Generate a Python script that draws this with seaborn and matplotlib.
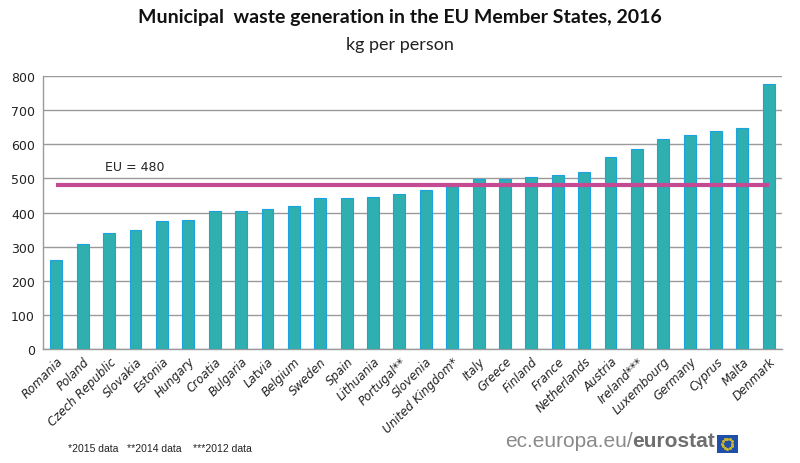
import matplotlib.pyplot as plt
import numpy as np
import pandas as pd
import seaborn as sns
from matplotlib.patches import Rectangle

countries = ['Romania', 'Poland', 'Czech Republic', 'Slovakia', 'Estonia', 'Hungary', 'Croatia',
             'Bulgaria', 'Latvia', 'Belgium', 'Sweden', 'Spain', 'Lithuania', 'Portugal**',
             'Slovenia', 'United Kingdom*', 'Italy', 'Greece', 'Finland', 'France', 'Netherlands',
             'Austria', 'Ireland***', 'Luxembourg', 'Germany', 'Cyprus', 'Malta', 'Denmark']
waste_kg = [261, 307, 339, 348, 376, 379, 403, 404, 410, 420, 443, 443, 444, 453,
            467, 485, 497, 498, 504, 510, 520, 564, 586, 614, 626, 640, 647, 777]
eu_avg = 480
y_ticks = [0, 100, 200, 300, 400, 500, 600, 700, 800]

df = pd.DataFrame({'country': countries, 'kg': waste_kg})

sns.set_style('white')
plt.rcParams['font.family'] = ['DejaVu Sans']

fig = plt.figure(figsize=(8, 4.64), dpi=100)
ax = fig.add_axes([0.054, 0.2457, 0.9235, 0.5883])

sns.barplot(data=df, x='country', y='kg', color='#2FAFB0', edgecolor='#1BA3E0',
            linewidth=0.8, width=0.45, saturation=1, ax=ax, zorder=3)

ax.hlines(eu_avg, 0, len(countries) - 1, color='#C44A94', linewidth=3, zorder=4)
ax.text(1.85, 535, 'EU = %d' % eu_avg, fontsize=9, ha='left', va='center', color='#222222')

ax.set_ylim(0, 800)
ax.set_xlim(-0.5, len(countries) - 0.5)
ax.set_yticks(y_ticks)
ax.yaxis.grid(True, color='#9A9A9A', linewidth=1, zorder=0)
ax.set_axisbelow(True)
ax.tick_params(axis='y', labelsize=9, length=0, pad=6, labelcolor='#222222')

ax.set_xticks(np.arange(len(countries)))
ax.set_xticklabels(countries, rotation=45, ha='right', rotation_mode='anchor',
                   fontsize=8.5, style='italic', color='#222222')
ax.tick_params(axis='x', length=0, pad=4)
ax.set_xticks(np.arange(-0.5, len(countries)), minor=True)
ax.tick_params(axis='x', which='minor', length=5, color='#9A9A9A', width=1)
ax.set_xlabel('')
ax.set_ylabel('')

for side in ['top', 'right']:
    ax.spines[side].set_visible(False)
for side in ['left', 'bottom']:
    ax.spines[side].set_color('#9A9A9A')
    ax.spines[side].set_linewidth(1)

fig.text(0.5, 0.962, 'Municipal  waste generation in the EU Member States, 2016',
         ha='center', va='center', fontsize=14, fontweight='bold', color='#111111',
         family=['Lato', 'DejaVu Sans'])
fig.text(0.5, 0.903, 'kg per person', ha='center', va='center', fontsize=13, color='#222222',
         family=['Lato', 'DejaVu Sans'])

fig.text(0.085, 0.032, '*2015 data   **2014 data    ***2012 data', ha='left', va='center',
         fontsize=7.5, family=['Liberation Sans', 'DejaVu Sans'], color='#222222')

# eurostat logo: text pieces placed one after another
t1 = fig.text(0.631, 0.048, 'ec.europa.eu/', ha='left', va='center', fontsize=15,
              color='#8A8A8A', family=['Liberation Sans', 'DejaVu Sans'])
fig.canvas.draw()
bb = t1.get_window_extent().transformed(fig.transFigure.inverted())
t2 = fig.text(bb.x1, 0.048, 'eurostat', ha='left', va='center', fontsize=15, fontweight='bold',
              color='#6E6E6E', family=['Liberation Sans', 'DejaVu Sans'])
fig.canvas.draw()
bb2 = t2.get_window_extent().transformed(fig.transFigure.inverted())

fx = bb2.x1 + 0.002
flag = Rectangle((fx, 0.022), 0.026, 0.039, transform=fig.transFigure,
                 facecolor='#1F4FA8', edgecolor='none')
fig.patches.append(flag)
ang = np.linspace(0, 2 * np.pi, 12, endpoint=False)
fig.add_artist(plt.Line2D(fx + 0.013 + 0.0065 * np.cos(ang), 0.0415 + 0.0112 * np.sin(ang),
                          transform=fig.transFigure, linestyle='none', marker='o',
                          markersize=1.2, color='#C9B52A'))

fig.savefig('out.png', dpi=100)
